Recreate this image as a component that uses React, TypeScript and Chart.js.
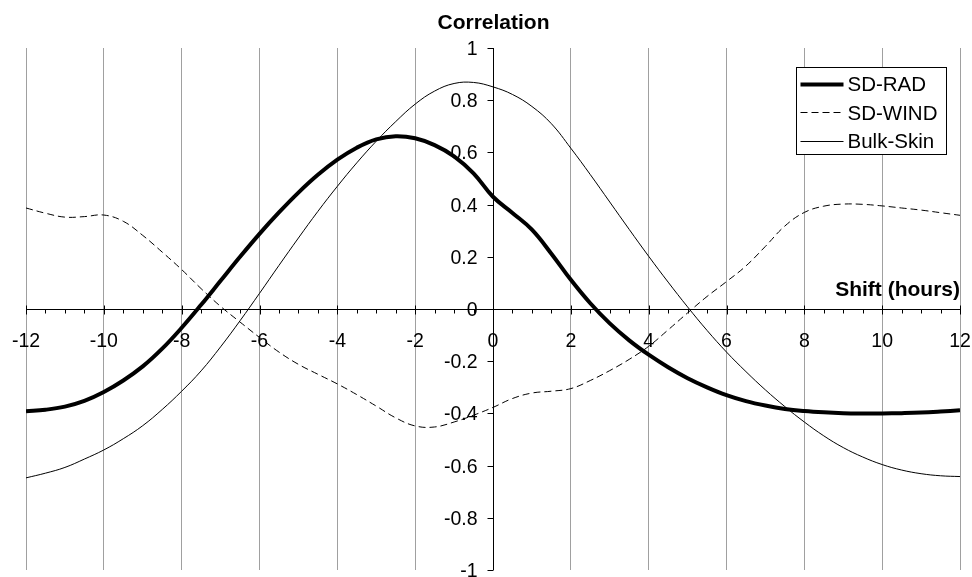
import React, { useEffect, useRef } from "react";
import { Chart, registerables } from "chart.js";

Chart.register(...registerables);

// ---- data ----
const shifts = [
  -12, -11.5, -11, -10.5, -10, -9.5, -9, -8.5, -8, -7.5, -7, -6.5, -6, -5.5, -5, -4.5,
  -4, -3.5, -3, -2.5, -2, -1.5, -1, -0.5, 0, 0.5, 1, 1.5, 2, 2.5, 3, 3.5, 4, 4.5, 5,
  5.5, 6, 6.5, 7, 7.5, 8, 8.5, 9, 9.5, 10, 10.5, 11, 11.5, 12,
];

const sdRad = [
  -0.392, -0.386, -0.374, -0.352, -0.318, -0.274, -0.22, -0.152, -0.072, 0.016, 0.108,
  0.2, 0.288, 0.37, 0.446, 0.514, 0.572, 0.618, 0.65, 0.662, 0.654, 0.628, 0.585, 0.52,
  0.43, 0.368, 0.304, 0.212, 0.112, 0.022, -0.055, -0.12, -0.175, -0.223, -0.265, -0.3,
  -0.33, -0.353, -0.37, -0.383, -0.391, -0.396, -0.399, -0.4, -0.4, -0.399, -0.397,
  -0.393, -0.388,
];

const sdWind = [
  0.387, 0.367, 0.352, 0.354, 0.36, 0.336, 0.282, 0.218, 0.151, 0.078, 0.01, -0.05,
  -0.109, -0.165, -0.212, -0.25, -0.287, -0.328, -0.372, -0.417, -0.448, -0.452, -0.433,
  -0.407, -0.377, -0.343, -0.322, -0.315, -0.305, -0.274, -0.236, -0.193, -0.143, -0.08,
  -0.015, 0.048, 0.105, 0.165, 0.24, 0.318, 0.37, 0.394, 0.402, 0.401, 0.395, 0.387,
  0.379, 0.369, 0.359,
];

const bulkSkin = [
  -0.647, -0.629, -0.607, -0.575, -0.54, -0.497, -0.447, -0.385, -0.315, -0.237, -0.145,
  -0.045, 0.06, 0.167, 0.272, 0.374, 0.47, 0.56, 0.643, 0.718, 0.785, 0.835, 0.864, 0.868,
  0.851, 0.822, 0.776, 0.71, 0.616, 0.515, 0.41, 0.305, 0.202, 0.103, 0.008, -0.082,
  -0.165, -0.24, -0.31, -0.374, -0.433, -0.486, -0.531, -0.567, -0.596, -0.617, -0.631,
  -0.639, -0.642,
];

const seriesLabels = ["SD-RAD", "SD-WIND", "Bulk-Skin"];

const xTickValues = [-12, -10, -8, -6, -4, -2, 0, 2, 4, 6, 8, 10, 12];
const xTickLabels = ["-12", "-10", "-8", "-6", "-4", "-2", "0", "2", "4", "6", "8", "10", "12"];
const xMinorStep = 0.5;

const yTickValues = [1, 0.8, 0.6, 0.4, 0.2, 0, -0.2, -0.4, -0.6, -0.8, -1];
const yTickLabels = ["1", "0.8", "0.6", "0.4", "0.2", "0", "-0.2", "-0.4", "-0.6", "-0.8", "-1"];

const yAxisTitle = "Correlation";
const xAxisTitle = "Shift (hours)";

const FONT = '"Liberation Sans", Arial, Helvetica, sans-serif';

const axesPlugin = {
  id: "centerAxes",
  beforeDatasetsDraw(chart: any) {
    const { ctx, chartArea } = chart;
    const xs = chart.scales.x;
    const ys = chart.scales.y;
    const x0 = Math.round(xs.getPixelForValue(0)) + 0.5;
    const y0 = Math.round(ys.getPixelForValue(0)) + 0.5;
    ctx.save();
    ctx.strokeStyle = "#000";
    ctx.lineWidth = 1;
    ctx.beginPath();
    ctx.moveTo(chartArea.left, y0);
    ctx.lineTo(chartArea.right, y0);
    ctx.moveTo(x0, chartArea.top);
    ctx.lineTo(x0, chartArea.bottom);
    // x major ticks (cross)
    xTickValues.forEach((v) => {
      const px = Math.round(xs.getPixelForValue(v)) + 0.5;
      ctx.moveTo(px, y0 - 4);
      ctx.lineTo(px, y0 + 5);
    });
    // x minor ticks (outside)
    const xmin = xTickValues[0];
    const xmax = xTickValues[xTickValues.length - 1];
    for (let v = xmin; v <= xmax + 1e-9; v += xMinorStep) {
      if (Math.abs(v % 2) < 1e-9) continue;
      const px = Math.round(xs.getPixelForValue(v)) + 0.5;
      ctx.moveTo(px, y0);
      ctx.lineTo(px, y0 + 4);
    }
    // y ticks (outside, left)
    yTickValues.forEach((v) => {
      const py = Math.round(ys.getPixelForValue(v)) + 0.5;
      ctx.moveTo(x0 - 6, py);
      ctx.lineTo(x0, py);
    });
    ctx.stroke();

    // tick labels
    ctx.fillStyle = "#000";
    ctx.font = `19.5px ${FONT}`;
    ctx.textAlign = "center";
    ctx.textBaseline = "alphabetic";
    xTickValues.forEach((v, i) => {
      ctx.fillText(xTickLabels[i], xs.getPixelForValue(v), y0 + 37);
    });
    ctx.textAlign = "right";
    yTickValues.forEach((v, i) => {
      ctx.fillText(yTickLabels[i], x0 - 16, ys.getPixelForValue(v) + 7);
    });

    // axis titles
    ctx.font = `bold 21px ${FONT}`;
    ctx.textAlign = "center";
    ctx.fillText(yAxisTitle, x0, 29);
    ctx.textAlign = "right";
    ctx.fillText(xAxisTitle, chartArea.right, y0 - 14);
    ctx.restore();
  },
  afterDatasetsDraw(chart: any) {
    const { ctx } = chart;
    const left = 796.5;
    const top = 67.5;
    const w = 150;
    const h = 87;
    ctx.save();
    ctx.fillStyle = "#fff";
    ctx.fillRect(left, top, w, h);
    ctx.strokeStyle = "#000";
    ctx.lineWidth = 1;
    ctx.strokeRect(left, top, w, h);
    ctx.font = `20.5px ${FONT}`;
    ctx.textAlign = "left";
    ctx.textBaseline = "alphabetic";
    chart.data.datasets.forEach((ds: any, i: number) => {
      const cy = top + 16 + i * 28.8;
      ctx.beginPath();
      ctx.strokeStyle = ds.borderColor;
      ctx.lineWidth = ds.borderWidth;
      ctx.setLineDash(ds.borderDash || []);
      ctx.moveTo(left + 4, Math.round(cy) + 0.5);
      ctx.lineTo(left + 47, Math.round(cy) + 0.5);
      ctx.stroke();
      ctx.setLineDash([]);
      ctx.fillStyle = "#000";
      ctx.fillText(ds.label, left + 51, cy + 7.2);
    });
    ctx.restore();
  },
};

function toPoints(ys: number[]) {
  return shifts.map((x, i) => ({ x, y: ys[i] }));
}

export default function App() {
  const canvasRef = useRef<HTMLCanvasElement | null>(null);

  useEffect(() => {
    const canvas = canvasRef.current;
    if (!canvas) return;
    const chart = new Chart(canvas, {
      type: "line",
      data: {
        datasets: [
          {
            label: seriesLabels[0],
            data: toPoints(sdRad),
            borderColor: "#000",
            borderWidth: 4,
            pointRadius: 0,
            tension: 0.4,
            fill: false,
          },
          {
            label: seriesLabels[1],
            data: toPoints(sdWind),
            borderColor: "#000",
            borderWidth: 1,
            borderDash: [7, 4],
            pointRadius: 0,
            tension: 0.4,
            fill: false,
          },
          {
            label: seriesLabels[2],
            data: toPoints(bulkSkin),
            borderColor: "#000",
            borderWidth: 1,
            pointRadius: 0,
            tension: 0.4,
            fill: false,
          },
        ],
      },
      options: {
        responsive: false,
        animation: false,
        devicePixelRatio: 1,
        layout: { padding: { left: 26, right: 12, top: 48, bottom: 7 } },
        plugins: { legend: { display: false }, tooltip: { enabled: false }, title: { display: false } },
        scales: {
          x: {
            type: "linear",
            min: -12,
            max: 12,
            ticks: { stepSize: 2, display: false },
            grid: { color: "#a0a0a0", lineWidth: 1, drawTicks: false },
            border: { display: false },
          },
          y: {
            type: "linear",
            min: -1,
            max: 1,
            display: false,
          },
        },
      },
      plugins: [axesPlugin],
    });
    return () => chart.destroy();
  }, []);

  return (
    <div style={{ position: "absolute", left: 0, top: 0, width: 972, height: 577, background: "#fff" }}>
      <canvas ref={canvasRef} width={972} height={577} style={{ display: "block" }} />
    </div>
  );
}
